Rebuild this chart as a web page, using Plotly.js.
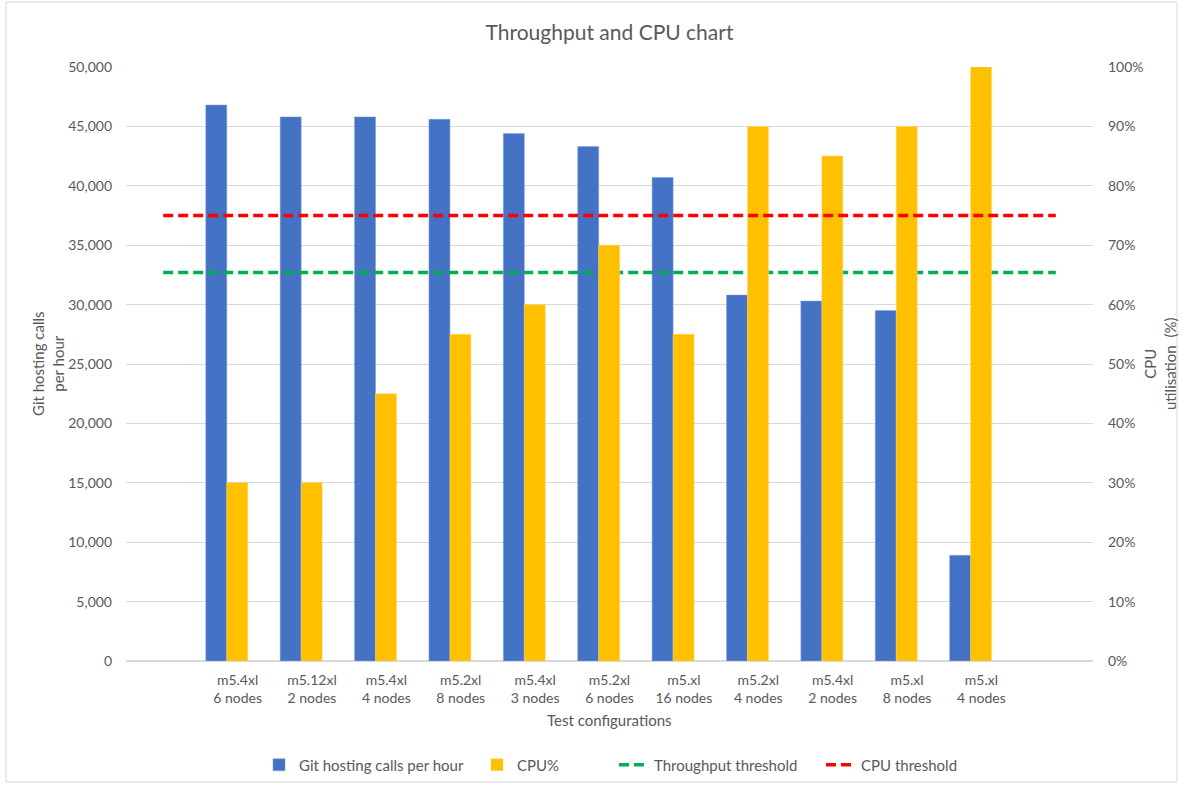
<!DOCTYPE html>
<html>
<head>
<meta charset="utf-8">
<script src="https://cdn.plot.ly/plotly-3.0.1.min.js"></script>
<style>html,body{margin:0;padding:0;background:#fff;}#chart{width:1181px;height:785px;}</style>
</head>
<body>
<div id="chart"></div>
<script>
// Category positions: slot 0 and slot 12 are blank padding slots of the category axis
const categoryPositions = [1, 2, 3, 4, 5, 6, 7, 8, 9, 10, 11];
const categoryLabels = [
  "m5.4xl<br>6 nodes", "m5.12xl<br>2 nodes", "m5.4xl<br>4 nodes", "m5.2xl<br>8 nodes",
  "m5.4xl<br>3 nodes", "m5.2xl<br>6 nodes", "m5.xl<br>16 nodes", "m5.2xl<br>4 nodes",
  "m5.4xl<br>2 nodes", "m5.xl<br>8 nodes", "m5.xl<br>4 nodes"
];
const gitCallsPerHour = [46800, 45800, 45800, 45600, 44400, 43300, 40700, 30800, 30300, 29500, 8900];
const cpuPercent = [30, 30, 45, 55, 60, 70, 55, 90, 85, 90, 100];
const thresholdSpan = [0, 12];
const throughputThreshold = [32700, 32700];
const cpuThreshold = [75, 75];

const FONT = "Lato, 'Open Sans', sans-serif";
const GREY = "#595959";

const traces = [
  {
    type: "bar", name: "Git hosting calls per hour", legend: "legend",
    x: categoryPositions, y: gitCallsPerHour, yaxis: "y",
    width: 0.282, offset: -0.427,
    marker: {color: "#4472C4", line: {color: "#7f9fd8", width: 0.5}}
  },
  {
    type: "bar", name: "CPU%", legend: "legend2",
    x: categoryPositions, y: cpuPercent, yaxis: "y2",
    width: 0.282, offset: -0.145,
    marker: {color: "#FFC000", line: {color: "#ffd966", width: 0.5}}
  },
  {
    type: "scatter", mode: "lines", name: "Throughput threshold", legend: "legend3",
    x: thresholdSpan, y: throughputThreshold, yaxis: "y",
    line: {color: "#00B050", width: 3.5, dash: "10px,5px"}
  },
  {
    type: "scatter", mode: "lines", name: "CPU threshold", legend: "legend4",
    x: thresholdSpan, y: cpuThreshold, yaxis: "y2",
    line: {color: "#FF0000", width: 3.5, dash: "10px,5px"}
  }
];

const W = 967, H = 594, L = 126, T = 67;
function px(x){ return (x - L) / W; }
function py(y){ return (T + H - y) / H; }

function legendAt(textStart){
  return {orientation: "h", x: px(textStart - 40), xanchor: "left", y: py(765), yanchor: "middle",
          font: {family: FONT, size: 15, color: GREY}, itemwidth: 30, bgcolor: "rgba(0,0,0,0)"};
}

const layout = {
  width: 1181, height: 785,
  margin: {l: 126, r: 88, t: 67, b: 124, pad: 0, autoexpand: false},
  paper_bgcolor: "#ffffff", plot_bgcolor: "#ffffff",
  font: {family: FONT, color: GREY, size: 14},
  title: {text: "Throughput and CPU chart", font: {family: FONT, size: 21, color: GREY},
          x: 0.5, xref: "paper", y: 1 - 33/785, yanchor: "middle"},
  showlegend: true,
  legend: legendAt(299),
  legend2: legendAt(517),
  legend3: legendAt(654),
  legend4: legendAt(861),
  bargap: 0.435,
  xaxis: {
    range: [-0.5, 12.5], tickmode: "array", tickvals: categoryPositions, ticktext: categoryLabels,
    showgrid: false, zeroline: false, showline: false, ticks: "",
    tickfont: {family: FONT, size: 14, color: GREY}, ticklabelstandoff: 9, fixedrange: true
  },
  yaxis: {
    range: [0, 50000], dtick: 5000, tickformat: ",", showgrid: true, gridcolor: "#d9d9d9", gridwidth: 1,
    zeroline: true, zerolinecolor: "#d9d9d9", zerolinewidth: 1.5, showline: false, ticks: "",
    ticklabelstandoff: 13, tickfont: {family: FONT, size: 14, color: GREY}
  },
  yaxis2: {
    range: [0, 100], dtick: 10, ticksuffix: "%", overlaying: "y", side: "right",
    showgrid: false, zeroline: false, showline: false, ticks: "",
    ticklabelstandoff: 14, tickfont: {family: FONT, size: 14, color: GREY}
  },
  annotations: [
    {text: "Git hosting calls<br>per hour", xref: "paper", yref: "paper", x: px(48), y: 0.5,
     xanchor: "center", yanchor: "middle", textangle: -90, showarrow: false,
     font: {family: FONT, size: 15, color: GREY}},
    {text: "CPU<br>utilisation  (%)", xref: "paper", yref: "paper", x: px(1160), y: 0.5,
     xanchor: "center", yanchor: "middle", textangle: -90, showarrow: false,
     font: {family: FONT, size: 15, color: GREY}},
    {text: "Test configurations", xref: "paper", yref: "paper", x: 0.5, y: py(720),
     xanchor: "center", yanchor: "middle", showarrow: false,
     font: {family: FONT, size: 15, color: GREY}}
  ],
  shapes: [
    {type: "rect", xref: "paper", yref: "paper", x0: px(6), x1: px(1177), y0: py(782), y1: py(2),
     line: {color: "#d9d9d9", width: 1}, fillcolor: "rgba(0,0,0,0)", layer: "below"}
  ]
};

Plotly.newPlot("chart", traces, layout, {displayModeBar: false, staticPlot: true});
</script>
</body>
</html>
